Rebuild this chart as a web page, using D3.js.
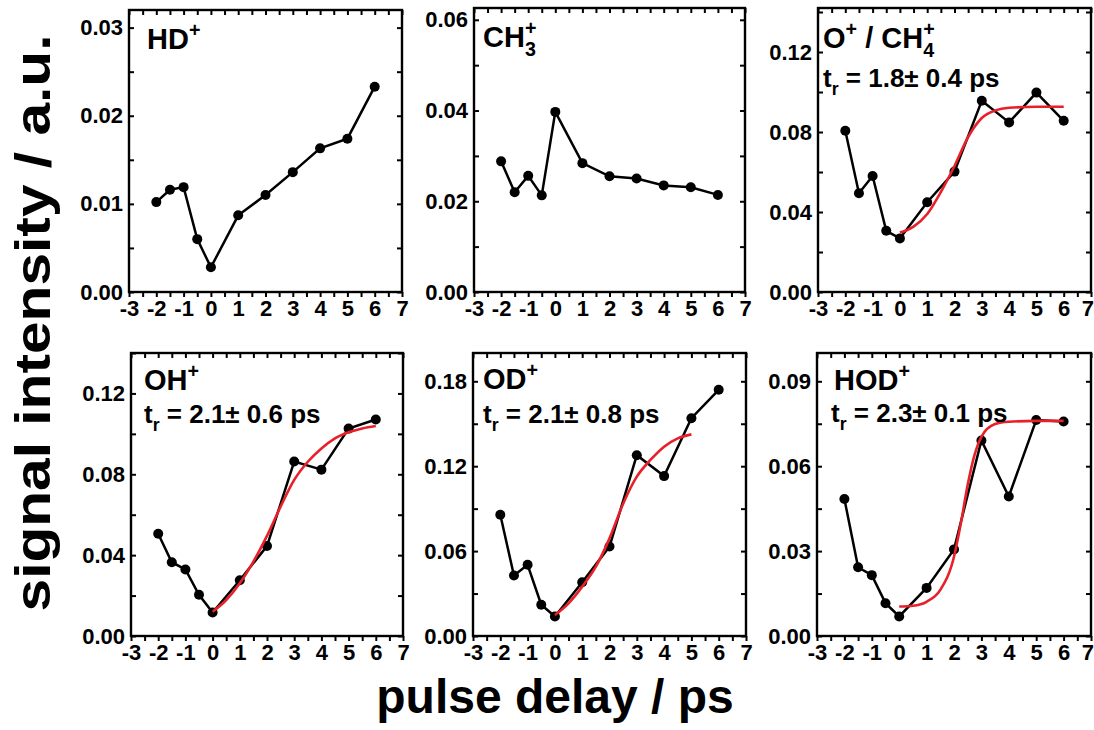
<!DOCTYPE html>
<html>
<head>
<meta charset="utf-8">
<script src="https://cdnjs.cloudflare.com/ajax/libs/d3/7.8.5/d3.min.js"></script>
<style>
body { margin: 0; background: #fff; }
text { font-family: "Liberation Sans", Arial, sans-serif; font-weight: bold; fill: #000; }
</style>
</head>
<body>
<div id="chart"></div>
<script>
var svgWidth = 1094, svgHeight = 730;

// pulse delays (ps), same for every fragment
var delays = [-2, -1.5, -1, -0.5, 0, 1, 2, 3, 4, 5, 6];

// measured signal per fragment
var hd   = [0.0102, 0.0116, 0.0119, 0.0060, 0.0028, 0.0087, 0.0110, 0.0136, 0.0163, 0.0174, 0.0233];
var ch3  = [0.0288, 0.0220, 0.0256, 0.0213, 0.0397, 0.0284, 0.0255, 0.0250, 0.0235, 0.0231, 0.0214];
var och4 = [0.0806, 0.0494, 0.0580, 0.0306, 0.0268, 0.0449, 0.0602, 0.0956, 0.0848, 0.0997, 0.0856];
var oh   = [0.0506, 0.0365, 0.0329, 0.0204, 0.0116, 0.0276, 0.0445, 0.0863, 0.0823, 0.1026, 0.1071];
var od   = [0.0857, 0.0427, 0.0503, 0.0221, 0.0138, 0.0380, 0.0632, 0.1278, 0.1130, 0.1539, 0.1740];
var hod  = [0.0484, 0.0243, 0.0215, 0.0116, 0.0069, 0.0170, 0.0306, 0.0691, 0.0493, 0.0763, 0.0758];

// fitted rise curves (red)
var fitXoch4 = [0, 0.5, 1, 1.5, 2, 2.5, 3, 3.5, 4, 5, 6];
var fitYoch4 = [0.0297, 0.0327, 0.0390, 0.0500, 0.0630, 0.0775, 0.0870, 0.0908, 0.0921, 0.0926, 0.0926];
var fitXoh = [0, 0.5, 1, 1.5, 2, 2.5, 3, 3.5, 4, 4.5, 5, 5.5, 6];
var fitYoh = [0.0120, 0.0178, 0.0261, 0.0368, 0.0495, 0.0640, 0.0772, 0.0862, 0.0928, 0.0978, 0.1008, 0.1027, 0.1039];
var fitXod = [0, 0.5, 1, 1.5, 2, 2.5, 3, 3.5, 4, 4.5, 5];
var fitYod = [0.0148, 0.0231, 0.0349, 0.0490, 0.0690, 0.0935, 0.1126, 0.1244, 0.1338, 0.1397, 0.1425];
var fitXhod = [0, 0.5, 1, 1.5, 2, 2.25, 2.5, 2.75, 3, 3.5, 4, 5, 6];
var fitYhod = [0.0104, 0.0107, 0.0121, 0.0163, 0.0280, 0.0398, 0.0534, 0.0640, 0.0704, 0.0749, 0.0757, 0.0760, 0.0760];

// tick labels
var xTicks = [-3, -2, -1, 0, 1, 2, 3, 4, 5, 6, 7];
var yTicksHD  = [0, 0.01, 0.02, 0.03];
var yTicksCH3 = [0, 0.02, 0.04, 0.06];
var yTicksO   = [0, 0.04, 0.08, 0.12];
var yTicksOH  = [0, 0.04, 0.08, 0.12];
var yTicksOD  = [0, 0.06, 0.12, 0.18];
var yTicksHOD = [0, 0.03, 0.06, 0.09];

// panel layout
var panels = [
	{left: 129, right: 402, top: 10, bottom: 292, ymax: 0.032, ticks: yTicksHD, vals: hd,
	 title: [{t: "HD"}, {t: "+", k: "sup"}], tx: 147, ty: 49},
	{left: 474, right: 745, top: 8, bottom: 292, ymax: 0.0626, ticks: yTicksCH3, vals: ch3,
	 title: [{t: "CH"}, {t: "+", k: "sup"}, {t: "3", k: "sub", back: true}], tx: 483, ty: 47},
	{left: 818, right: 1091, top: 8, bottom: 292, ymax: 0.142, ticks: yTicksO, vals: och4,
	 fx: fitXoch4, fy: fitYoch4, tr: "1.8\u00b1 0.4 ps",
	 title: [{t: "O"}, {t: "+", k: "sup"}, {t: " / CH", k: ""}, {t: "+", k: "sup"}, {t: "4", k: "sub", back: true}],
	 tx: 823, ty: 48, rx: 823, ry: 87},
	{left: 131, right: 403, top: 353, bottom: 636, ymax: 0.14, ticks: yTicksOH, vals: oh,
	 fx: fitXoh, fy: fitYoh, tr: "2.1\u00b1 0.6 ps",
	 title: [{t: "OH"}, {t: "+", k: "sup"}], tx: 144, ty: 390, rx: 144, ry: 423},
	{left: 473, right: 746, top: 353, bottom: 636, ymax: 0.2, ticks: yTicksOD, vals: od,
	 fx: fitXod, fy: fitYod, tr: "2.1\u00b1 0.8 ps",
	 title: [{t: "OD"}, {t: "+", k: "sup"}], tx: 483, ty: 389, rx: 483, ry: 423},
	{left: 817, right: 1091, top: 353, bottom: 636, ymax: 0.1, ticks: yTicksHOD, vals: hod,
	 fx: fitXhod, fy: fitYhod, tr: "2.3\u00b1 0.1 ps",
	 title: [{t: "HOD"}, {t: "+", k: "sup"}], tx: 834, ty: 390, rx: 831, ry: 422}
];

var svg = d3.select("#chart").append("svg").attr("width", svgWidth).attr("height", svgHeight);

// text with super/subscripts, built from tspans
function richText(px, py, size, parts) {
	var t = svg.append("text").attr("x", px).attr("y", py).style("font-size", size + "px");
	var shift = 0, lastW = 0;
	parts.forEach(function(part) {
		var target = part.k == "sup" ? -0.40 * size : part.k == "sub" ? 0.30 * size : 0;
		var s = t.append("tspan").text(part.t).attr("dy", target - shift);
		if (part.k) s.style("font-size", (size * 0.68) + "px");
		if (part.back) s.attr("dx", -lastW);
		shift = target;
		lastW = s.node().getComputedTextLength();
	});
	return t;
}

panels.forEach(function(p) {
	var x = d3.scaleLinear().domain([-3, 7]).range([p.left, p.right]);
	var y = d3.scaleLinear().domain([0, p.ymax]).range([p.bottom, p.top]);
	var step = p.ticks[1];
	var yAll = d3.range(0, p.ymax + 1e-9, step / 2);
	var xAll = d3.range(-3, 7.01, 0.5);

	// bottom axis, ticks out
	svg.append("g").attr("transform", "translate(0," + p.bottom + ")")
		.call(d3.axisBottom(x).tickValues(xAll).tickSize(5).tickPadding(3)
			.tickFormat(function(d) { return xTicks.indexOf(d) >= 0 ? String(d) : ""; }))
		.call(function(g) { g.select(".domain").remove(); })
		.selectAll("text").style("font-size", "22px")
		.each(function() {
			// keep the last label inside the page
			var b = this.getBBox(), g = this.parentNode.getCTM();
			var over = g.e + b.x + b.width - svgWidth;
			if (over > 0) d3.select(this).attr("x", -over);
		});
	svg.append("g").attr("transform", "translate(0," + p.top + ")")
		.call(d3.axisTop(x).tickValues(xAll).tickSize(-5).tickFormat(""))
		.call(function(g) { g.select(".domain").remove(); });

	// left axis, ticks in
	svg.append("g").attr("transform", "translate(" + p.left + ",0)")
		.call(d3.axisLeft(y).tickValues(yAll).tickSize(-5).tickPadding(6)
			.tickFormat(function(d) {
				var hit = p.ticks.some(function(v) { return Math.abs(v - d) < 1e-9; });
				return hit ? d3.format(".2f")(d) : "";
			}))
		.call(function(g) { g.select(".domain").remove(); })
		.selectAll("text").style("font-size", "22px");
	svg.append("g").attr("transform", "translate(" + p.right + ",0)")
		.call(d3.axisRight(y).tickValues(yAll).tickSize(-5).tickFormat(""))
		.call(function(g) { g.select(".domain").remove(); });

	svg.selectAll(".tick line").attr("stroke-width", 2);

	// frame
	svg.append("rect")
		.attr("x", p.left).attr("y", p.top)
		.attr("width", p.right - p.left).attr("height", p.bottom - p.top)
		.attr("fill", "none").attr("stroke", "black").attr("stroke-width", 2.4);

	// data
	var line = d3.line().x(function(d, i) { return x(delays[i]); }).y(function(d) { return y(d); });
	svg.append("path").datum(p.vals)
		.attr("d", line).attr("fill", "none").attr("stroke", "black").attr("stroke-width", 2.5);
	p.vals.forEach(function(v, i) {
		svg.append("circle").attr("cx", x(delays[i])).attr("cy", y(v)).attr("r", 5).attr("fill", "black");
	});

	// fit
	if (p.fx) {
		var fit = d3.line().curve(d3.curveMonotoneX)
			.x(function(d, i) { return x(p.fx[i]); }).y(function(d) { return y(d); });
		svg.append("path").datum(p.fy)
			.attr("d", fit).attr("fill", "none").attr("stroke", "#e8202a").attr("stroke-width", 2.6);
	}

	// labels
	richText(p.tx, p.ty, 29, p.title);
	if (p.tr) {
		richText(p.rx, p.ry, 26, [{t: "t"}, {t: "r", k: "sub"}, {t: " = " + p.tr}]);
	}
});

// axis titles
svg.append("text")
	.attr("transform", "translate(50,323) rotate(-90)")
	.attr("text-anchor", "middle")
	.attr("textLength", 577)
	.attr("lengthAdjust", "spacingAndGlyphs")
	.style("font-size", "50px")
	.text("signal intensity / a.u.");

svg.append("text")
	.attr("x", 555).attr("y", 713)
	.attr("text-anchor", "middle")
	.style("font-size", "48px")
	.text("pulse delay / ps");
</script>
</body>
</html>
